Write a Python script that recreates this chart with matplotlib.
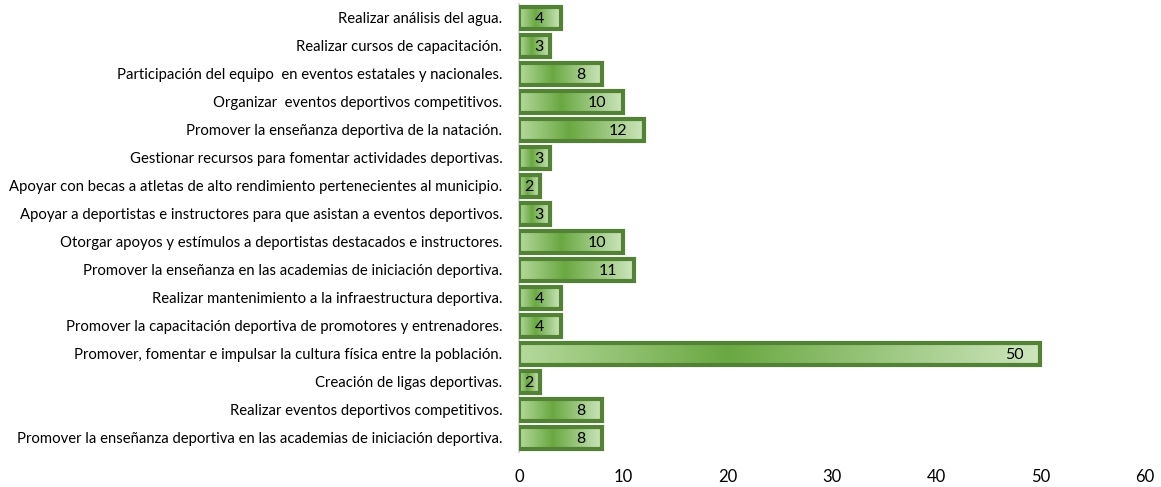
import matplotlib
matplotlib.use("Agg")
import matplotlib.pyplot as plt
import numpy as np
from matplotlib.colors import LinearSegmentedColormap

categories = [
    "Realizar análisis del agua.",
    "Realizar cursos de capacitación.",
    "Participación del equipo  en eventos estatales y nacionales.",
    "Organizar  eventos deportivos competitivos.",
    "Promover la enseñanza deportiva de la natación.",
    "Gestionar recursos para fomentar actividades deportivas.",
    "Apoyar con becas a atletas de alto rendimiento pertenecientes al municipio.",
    "Apoyar a deportistas e instructores para que asistan a eventos deportivos.",
    "Otorgar apoyos y estímulos a deportistas destacados e instructores.",
    "Promover la enseñanza en las academias de iniciación deportiva.",
    "Realizar mantenimiento a la infraestructura deportiva.",
    "Promover la capacitación deportiva de promotores y entrenadores.",
    "Promover, fomentar e impulsar la cultura física entre la población.",
    "Creación de ligas deportivas.",
    "Realizar eventos deportivos competitivos.",
    "Promover la enseñanza deportiva en las academias de iniciación deportiva.",
]
values = [4, 3, 8, 10, 12, 3, 2, 3, 10, 11, 4, 4, 50, 2, 8, 8]
xticks = [0, 10, 20, 30, 40, 50, 60]

plt.rcParams['font.family'] = ['Lato', 'DejaVu Sans']

fig = plt.figure(figsize=(11.61, 4.87), dpi=100)
ax = fig.add_axes([0.447, 0.072, 0.539, 0.920])

n = len(categories)
ypos = np.arange(n)[::-1]
bh = 0.76

cmap = LinearSegmentedColormap.from_list(
    "g", [(0.0, "#b5d99c"), (0.4, "#6aa842"), (1.0, "#cde6bd")])
grad = np.linspace(0, 1, 256).reshape(1, -1)

ax.set_xlim(0, 60)
ax.set_ylim(-0.5, n - 0.5)

for y, v in zip(ypos, values):
    bars = ax.barh(y, v, height=bh, color="none", edgecolor="#538135",
                   linewidth=3.0, zorder=3)
    rect = bars[0]
    im = ax.imshow(grad, extent=(0, v, y - bh / 2, y + bh / 2), cmap=cmap,
                   aspect="auto", zorder=2, interpolation="bilinear")
    im.set_clip_path(rect)
    if v <= 3:
        ax.annotate(str(v), xy=(v, y), xytext=(-8, -1), textcoords="offset points",
                    ha="center", va="center", fontsize=11.5, color="black", zorder=4)
    else:
        ax.annotate(str(v), xy=(v, y), xytext=(-12, -1), textcoords="offset points",
                    ha="right", va="center", fontsize=11.5, color="black", zorder=4)

ax.set_yticks(ypos)
ax.set_yticklabels(categories, fontsize=10.7)
ax.set_xticks(xticks)
ax.set_xticklabels([str(t) for t in xticks], fontsize=12)
ax.tick_params(axis="both", length=0)
ax.tick_params(axis="y", pad=12)
ax.tick_params(axis="x", pad=12)
for s in ["top", "right", "bottom"]:
    ax.spines[s].set_visible(False)
ax.spines["left"].set_color("#d9d9d9")
ax.spines["left"].set_linewidth(1.5)
ax.set_ylim(-0.5, n - 0.5)
ax.set_xlim(0, 60)

fig.savefig("out.png", dpi=100)
